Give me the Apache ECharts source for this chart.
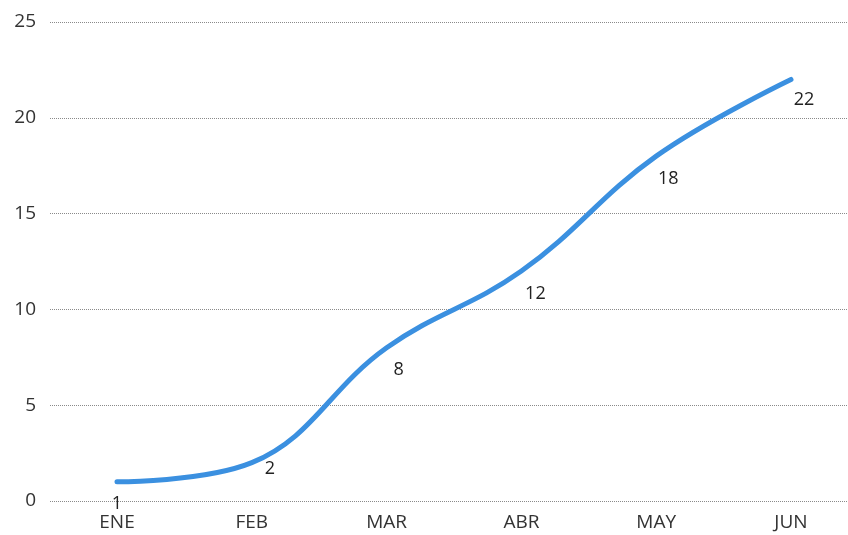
<!DOCTYPE html>
<html>
<head>
<meta charset="utf-8">
<script src="https://cdn.jsdelivr.net/npm/echarts@6/dist/echarts.min.js"></script>
<style>html,body{margin:0;padding:0;background:#fff;}#c{width:848px;height:535px;}</style>
</head>
<body>
<div id="c"></div>
<script>
const categories = ['ENE', 'FEB', 'MAR', 'ABR', 'MAY', 'JUN'];
const values = [1, 2, 8, 12, 18, 22];
const yTicks = [0, 5, 10, 15, 20, 25];

const labelOffsets = [[0, -2], [18, -18], [12, -2], [14, -2], [12, -2], [13, -4]];

const chart = echarts.init(document.getElementById('c'));
chart.setOption({
  animation: false,
  backgroundColor: '#ffffff',
  grid: [
    { left: 50, top: 22, right: 0, bottom: 34, containLabel: false },
    { left: 117, top: 22, right: 57, bottom: 34, containLabel: false }
  ],
  xAxis: [
    { type: 'value', gridIndex: 0, show: false, min: 0, max: 1 },
    {
      type: 'category',
      gridIndex: 1,
      data: categories,
      boundaryGap: false,
      axisLine: { show: false },
      axisTick: { show: false },
      splitLine: { show: false },
      axisLabel: { color: '#333', fontSize: 19, fontFamily: 'Open Sans', margin: 12 }
    }
  ],
  yAxis: [
    {
      type: 'value',
      gridIndex: 0,
      min: yTicks[0],
      max: yTicks[yTicks.length - 1],
      interval: 5,
      axisLine: { show: false },
      axisTick: { show: false },
      axisLabel: { color: '#333', fontSize: 19, fontFamily: 'Open Sans', margin: 14 },
      splitLine: { lineStyle: { color: '#8a8a8a', type: 'dotted', width: 1 } }
    },
    {
      type: 'value',
      gridIndex: 1,
      min: yTicks[0],
      max: yTicks[yTicks.length - 1],
      interval: 5,
      show: false,
      splitLine: { show: false }
    }
  ],
  series: [{
    type: 'line',
    xAxisIndex: 1,
    yAxisIndex: 1,
    data: values.map((v, i) => ({
      value: v,
      label: { offset: labelOffsets[i] }
    })),
    smooth: 0.4,
    symbol: 'circle',
    symbolSize: 3,
    showSymbol: true,
    itemStyle: { color: '#3b90e0' },
    lineStyle: { color: '#3b90e0', width: 5, cap: 'round' },
    label: {
      show: true,
      position: 'bottom',
      distance: 14,
      color: '#222',
      fontSize: 18,
      fontFamily: 'Open Sans'
    }
  }]
});
</script>
</body>
</html>
